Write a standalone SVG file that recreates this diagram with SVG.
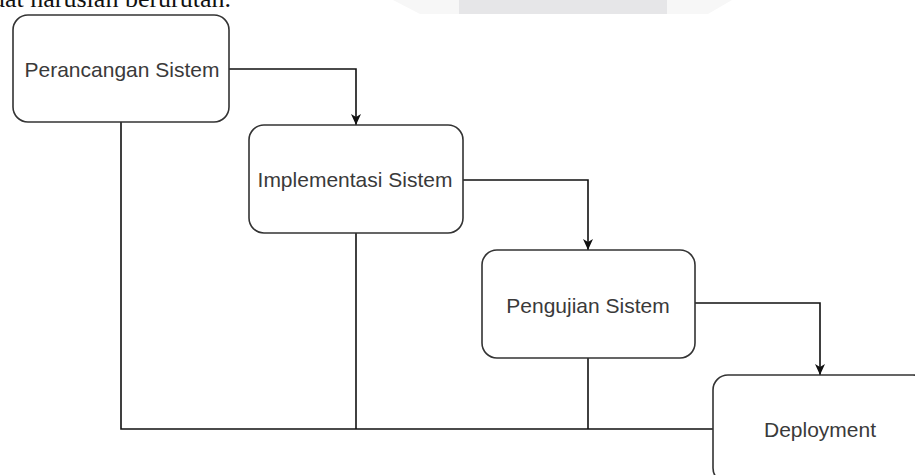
<svg xmlns="http://www.w3.org/2000/svg" width="915" height="475" viewBox="0 0 915 475">
  <style>
    .box { fill: #ffffff; stroke: #333333; stroke-width: 1.6; }
    .label { font-family: "Liberation Sans", Arial, sans-serif; font-size: 21px; fill: #3a3a3a; text-anchor: middle; }
    .link { fill: none; stroke: #111111; stroke-width: 1.6; }
    .prose { font-family: "Liberation Serif", "Times New Roman", serif; font-size: 26px; fill: #111111; }
  </style>
  <defs>
    <marker id="arrow" viewBox="0 0 12 12" refX="11" refY="6" markerWidth="12" markerHeight="12" markerUnits="userSpaceOnUse" orient="auto">
      <path d="M0,1 L11,6 L0,11 L3,6 Z" fill="#111111"/>
    </marker>
  </defs>

  <rect width="915" height="475" fill="#ffffff"/>

  <!-- page header strip -->
  <g id="header">
    <polygon points="393,0 732,0 708,14 420,14" fill="#f7f7f7"/>
    <rect x="459" y="0" width="208" height="14" fill="#e6e6e8"/>
    <text class="prose" x="231" y="7" text-anchor="end">dibuat haruslah berurutan.</text>
  </g>

  <g id="connectors">
    <path class="link" d="M229,69 H356 V125" marker-end="url(#arrow)"/>
    <path class="link" d="M463,180 H588 V250" marker-end="url(#arrow)"/>
    <path class="link" d="M695,303 H820 V375" marker-end="url(#arrow)"/>
    <path class="link" d="M121,122 V429 H713"/>
    <path class="link" d="M356,233 V429"/>
    <path class="link" d="M588,358 V429"/>
  </g>

  <g id="perancangan">
    <rect class="box" x="13" y="15" width="216" height="107" rx="15"/>
    <text class="label" x="122" y="77">Perancangan Sistem</text>
  </g>

  <g id="implementasi">
    <rect class="box" x="249" y="125" width="214" height="108" rx="15"/>
    <text class="label" x="355" y="187">Implementasi Sistem</text>
  </g>

  <g id="pengujian">
    <rect class="box" x="482" y="250" width="213" height="108" rx="15"/>
    <text class="label" x="588" y="313">Pengujian Sistem</text>
  </g>

  <g id="deployment">
    <rect class="box" x="713" y="375" width="215" height="108" rx="15"/>
    <text class="label" x="820" y="437">Deployment</text>
  </g>
</svg>
